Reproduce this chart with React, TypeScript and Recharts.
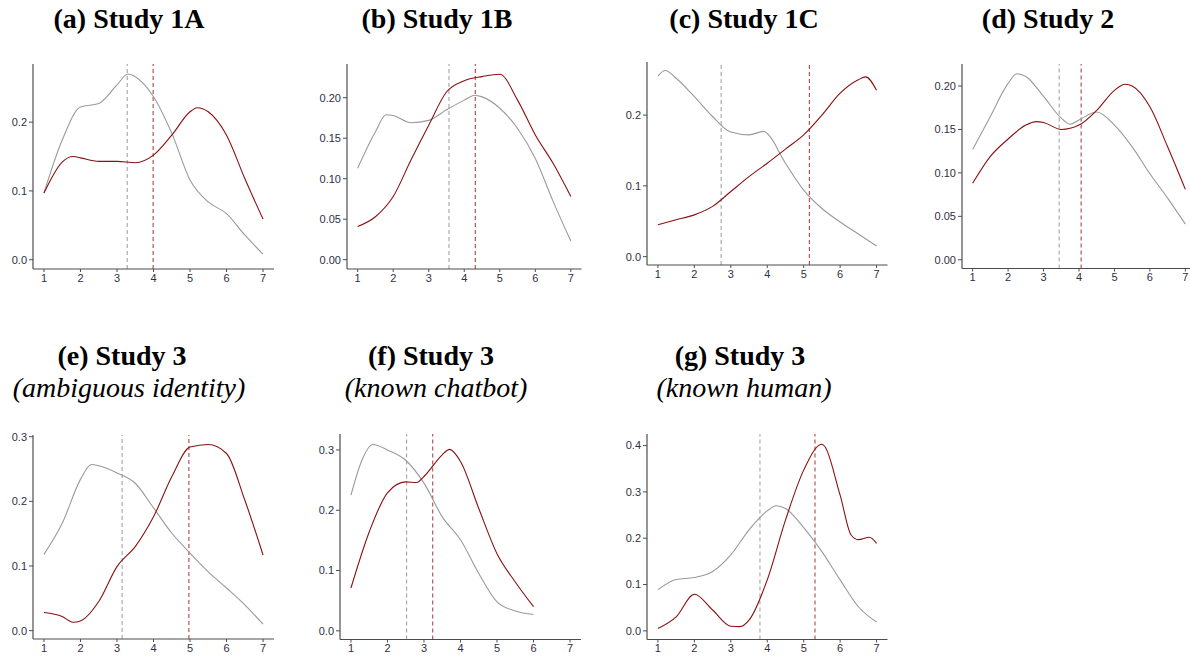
import { LineChart, Line, XAxis, YAxis, ReferenceLine } from 'recharts';

type Pt = [number, number];

const xTicks = [1, 2, 3, 4, 5, 6, 7];

// (a) Study 1A
const grayA: Pt[] = [[1, 0.097], [1.5, 0.174], [2, 0.222], [2.5, 0.227], [3, 0.254], [3.3, 0.27], [3.5, 0.266], [4, 0.237], [4.5, 0.184], [5, 0.116], [5.5, 0.084], [6, 0.067], [6.5, 0.036], [7, 0.008]];
const redA: Pt[] = [[1, 0.097], [1.5, 0.142], [1.8, 0.15], [2, 0.148], [2.5, 0.143], [3, 0.143], [3.5, 0.141], [4, 0.152], [4.5, 0.181], [5, 0.215], [5.2, 0.221], [5.5, 0.215], [6, 0.181], [6.5, 0.118], [7, 0.059]];
const meansA = [3.28, 3.99];

// (b) Study 1B
const grayB: Pt[] = [[1, 0.113], [1.5, 0.158], [1.8, 0.179], [2, 0.178], [2.5, 0.169], [3, 0.172], [3.5, 0.185], [4, 0.197], [4.3, 0.203], [4.5, 0.201], [5, 0.187], [5.5, 0.162], [6, 0.125], [6.5, 0.072], [7, 0.023]];
const redB: Pt[] = [[1, 0.041], [1.5, 0.053], [2, 0.078], [2.5, 0.123], [3, 0.166], [3.5, 0.207], [4, 0.221], [4.5, 0.226], [5, 0.229], [5.5, 0.197], [6, 0.154], [6.5, 0.119], [7, 0.078]];
const meansB = [3.57, 4.31];

// (c) Study 1C
const grayC: Pt[] = [[1, 0.255], [1.2, 0.263], [1.5, 0.252], [2, 0.226], [2.5, 0.198], [3, 0.176], [3.5, 0.172], [3.9, 0.177], [4, 0.174], [4.5, 0.132], [5, 0.094], [5.5, 0.068], [6, 0.049], [6.5, 0.032], [7, 0.015]];
const redC: Pt[] = [[1, 0.045], [1.5, 0.052], [2, 0.059], [2.5, 0.071], [3, 0.092], [3.5, 0.113], [4, 0.132], [4.5, 0.152], [5, 0.172], [5.5, 0.2], [6, 0.231], [6.5, 0.25], [6.7, 0.254], [7, 0.235]];
const meansC = [2.735, 5.155];

// (d) Study 2
const grayD: Pt[] = [[1, 0.127], [1.5, 0.165], [2, 0.203], [2.25, 0.214], [2.5, 0.211], [3, 0.188], [3.5, 0.163], [3.75, 0.156], [4, 0.161], [4.5, 0.17], [5, 0.155], [5.5, 0.13], [6, 0.099], [6.5, 0.071], [7, 0.041]];
const redD: Pt[] = [[1, 0.088], [1.5, 0.119], [2, 0.139], [2.5, 0.155], [2.8, 0.159], [3, 0.158], [3.5, 0.15], [4, 0.155], [4.5, 0.172], [5, 0.195], [5.3, 0.202], [5.5, 0.2], [6, 0.176], [6.5, 0.13], [7, 0.081]];
const meansD = [3.44, 4.06];

// (e) Study 3, ambiguous identity
const grayE: Pt[] = [[1, 0.118], [1.5, 0.166], [2, 0.234], [2.3, 0.257], [2.5, 0.255], [3, 0.244], [3.5, 0.228], [4, 0.19], [4.5, 0.151], [5, 0.12], [5.5, 0.091], [6, 0.066], [6.5, 0.04], [7, 0.01]];
const redE: Pt[] = [[1, 0.028], [1.5, 0.022], [1.8, 0.013], [2, 0.015], [2.5, 0.045], [3, 0.099], [3.5, 0.13], [4, 0.176], [4.5, 0.238], [5, 0.284], [5.5, 0.288], [6, 0.274], [6.5, 0.202], [7, 0.117]];
const meansE = [3.14, 4.97];

// (f) Study 3, known chatbot
const grayF: Pt[] = [[1, 0.225], [1.3, 0.283], [1.6, 0.309], [2, 0.3], [2.5, 0.283], [3, 0.245], [3.5, 0.189], [4, 0.151], [4.5, 0.095], [5, 0.048], [5.5, 0.033], [6, 0.027]];
const redF: Pt[] = [[1, 0.071], [1.5, 0.164], [2, 0.229], [2.5, 0.247], [2.8, 0.246], [3, 0.256], [3.5, 0.292], [3.7, 0.301], [4, 0.281], [4.5, 0.203], [5, 0.128], [5.5, 0.081], [6, 0.04]];
const meansF = [2.525, 3.24];

// (g) Study 3, known human
const grayG: Pt[] = [[1, 0.089], [1.5, 0.111], [2, 0.115], [2.5, 0.128], [3, 0.164], [3.5, 0.218], [4, 0.259], [4.25, 0.27], [4.5, 0.264], [5, 0.223], [5.5, 0.171], [6, 0.11], [6.5, 0.052], [7, 0.019]];
const redG: Pt[] = [[1, 0.005], [1.5, 0.03], [2, 0.079], [2.5, 0.045], [3, 0.01], [3.25, 0.009], [3.5, 0.023], [4, 0.11], [4.5, 0.239], [5, 0.347], [5.5, 0.403], [6, 0.293], [6.3, 0.207], [6.5, 0.197], [6.8, 0.202], [7, 0.189]];
const meansG = [3.8, 5.31];

const ticks1 = [0, 0.1, 0.2];
const ticks2 = [0, 0.05, 0.1, 0.15, 0.2];
const ticks3 = [0, 0.1, 0.2, 0.3];
const ticks4 = [0, 0.1, 0.2, 0.3, 0.4];

const GRAY = '#9a9a9a';
const RED = '#8b1010';
const AXIS = '#4d4d4d';
const tickStyle = { fill: '#2f2f3f', fontSize: 11, fontFamily: '"Liberation Sans", Arial, sans-serif' };

interface Box { left: number; top: number; right: number; bottom: number }

interface PanelProps {
  box: Box;
  yDomain: [number, number];
  yTicks: number[];
  digits: number;
  gray: Pt[];
  red: Pt[];
  means: number[];
}

function Panel({ box, yDomain, yTicks, digits, gray, red, means }: PanelProps) {
  const padL = 40, padT = 8, padR = 12, padB = 24;
  const w = box.right - box.left;
  const h = box.bottom - box.top;
  const grayData = gray.map(([x, y]) => ({ x, y }));
  const redData = red.map(([x, y]) => ({ x, y }));
  return (
    <div style={{ position: 'absolute', left: box.left - padL, top: box.top - padT }}>
      <LineChart width={w + padL + padR} height={h + padT + padB} margin={{ top: padT, right: padR, bottom: 0, left: 0 }}>
        <XAxis
          type="number"
          dataKey="x"
          domain={[0.7, 7.3]}
          ticks={xTicks}
          interval={0}
          allowDataOverflow
          height={padB}
          tick={tickStyle}
          tickSize={3}
          tickMargin={2}
          axisLine={{ stroke: AXIS, strokeWidth: 1.2 }}
          tickLine={{ stroke: AXIS }}
        />
        <YAxis
          type="number"
          domain={yDomain}
          ticks={yTicks}
          interval={0}
          allowDataOverflow
          width={padL}
          tick={tickStyle}
          tickSize={4}
          tickMargin={2}
          tickFormatter={(v: number) => v.toFixed(digits)}
          axisLine={{ stroke: AXIS, strokeWidth: 1.2 }}
          tickLine={{ stroke: AXIS }}
        />
        <ReferenceLine x={means[0]} stroke={GRAY} strokeDasharray="4 3" />
        <ReferenceLine x={means[1]} stroke="#a83232" strokeDasharray="4 3" />
        <Line data={grayData} dataKey="y" type="monotone" stroke={GRAY} strokeWidth={1.1} dot={false} isAnimationActive={false} />
        <Line data={redData} dataKey="y" type="monotone" stroke={RED} strokeWidth={1.1} dot={false} isAnimationActive={false} />
      </LineChart>
    </div>
  );
}

function Title({ x, y, text, italic }: { x: number; y: number; text: string; italic?: boolean }) {
  return (
    <div
      style={{
        position: 'absolute',
        left: x,
        top: y,
        transform: 'translateX(-50%)',
        whiteSpace: 'nowrap',
        fontFamily: '"Liberation Serif", "Times New Roman", serif',
        fontSize: 28,
        lineHeight: '32px',
        fontWeight: italic ? 'normal' : 'bold',
        fontStyle: italic ? 'italic' : 'normal',
        color: '#000',
      }}
    >
      {text}
    </div>
  );
}

export default function App() {
  return (
    <div style={{ position: 'fixed', left: 0, top: 0, width: 1190, height: 658, overflow: 'hidden', background: '#fff' }}>
      <style>{'html, body { overflow: hidden; }'}</style>
      <Title x={129} y={3} text="(a) Study 1A" />
      <Title x={437} y={3} text="(b) Study 1B" />
      <Title x={744} y={3} text="(c) Study 1C" />
      <Title x={1048} y={3} text="(d) Study 2" />
      <Title x={122} y={340} text="(e) Study 3" />
      <Title x={129} y={372} text="(ambiguous identity)" italic />
      <Title x={431} y={340} text="(f) Study 3" />
      <Title x={436} y={372} text="(known chatbot)" italic />
      <Title x={740} y={340} text="(g) Study 3" />
      <Title x={744} y={372} text="(known human)" italic />

      <Panel box={{ left: 33, top: 64, right: 274, bottom: 269 }} yDomain={[-0.0135, 0.2845]} yTicks={ticks1} digits={1} gray={grayA} red={redA} means={meansA} />
      <Panel box={{ left: 346.5, top: 64, right: 581, bottom: 269 }} yDomain={[-0.0115, 0.2416]} yTicks={ticks2} digits={2} gray={grayB} red={redB} means={meansB} />
      <Panel box={{ left: 647, top: 62, right: 887.5, bottom: 265 }} yDomain={[-0.0118, 0.275]} yTicks={ticks1} digits={1} gray={grayC} red={redC} means={meansC} />
      <Panel box={{ left: 961.5, top: 64, right: 1195.5, bottom: 268.5 }} yDomain={[-0.01, 0.2253]} yTicks={ticks2} digits={2} gray={grayD} red={redD} means={meansD} />
      <Panel box={{ left: 33, top: 435, right: 274, bottom: 639 }} yDomain={[-0.0129, 0.3026]} yTicks={ticks3} digits={1} gray={grayE} red={redE} means={meansE} />
      <Panel box={{ left: 340, top: 434, right: 581, bottom: 639.5 }} yDomain={[-0.0144, 0.3265]} yTicks={ticks3} digits={1} gray={grayF} red={redF} means={meansF} />
      <Panel box={{ left: 647, top: 434, right: 887.5, bottom: 639.5 }} yDomain={[-0.0187, 0.425]} yTicks={ticks4} digits={1} gray={grayG} red={redG} means={meansG} />
    </div>
  );
}
